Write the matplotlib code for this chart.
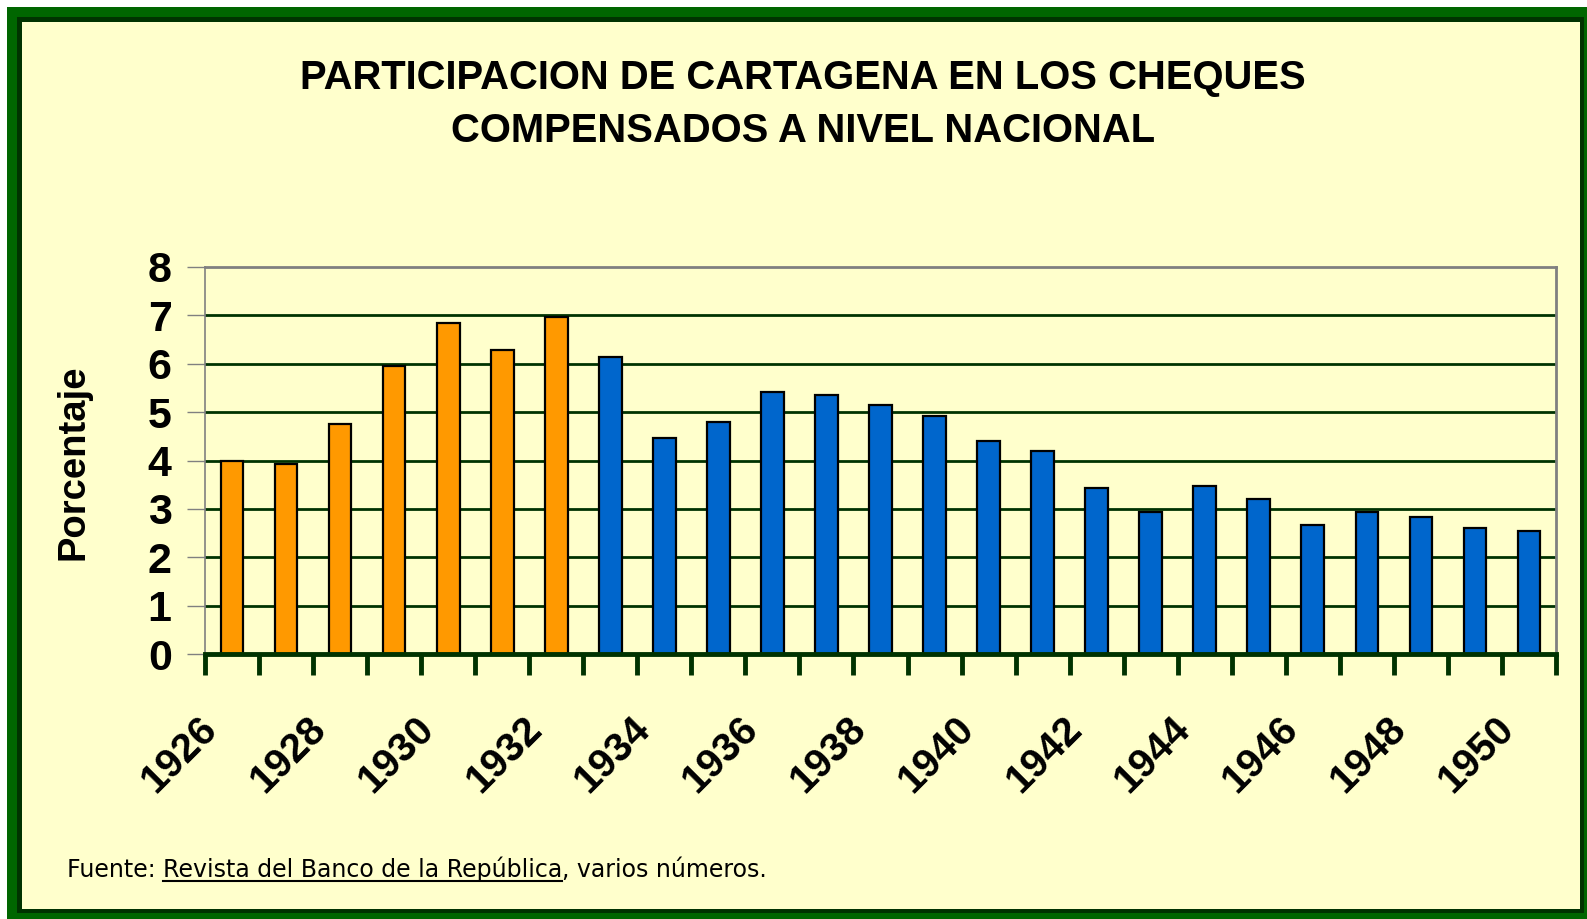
import matplotlib
matplotlib.use("Agg")
import matplotlib.pyplot as plt
from matplotlib.patches import Rectangle
from matplotlib.lines import Line2D
from matplotlib.transforms import ScaledTranslation
import numpy as np

# Daten
years = list(range(1926, 1951))
share = [4.0, 3.92, 4.75, 5.96, 6.85, 6.29, 6.96,
         6.13, 4.47, 4.80, 5.41, 5.36, 5.14, 4.92, 4.41, 4.19,
         3.43, 2.93, 3.48, 3.21, 2.67, 2.93, 2.83, 2.60, 2.55]
first_blue = 1933
label_years = years[::2]

orange = "#FF9900"
blue = "#0066CC"
cream = "#FFFFCC"
dkgreen = "#003300"

W, H = 1587, 919
fig = plt.figure(figsize=(W / 100, H / 100), dpi=100)
fig.patch.set_facecolor("white")

def px_rect(x0, y0, x1, y1, color):
    # Rechteck in Pixelkoordinaten (y von oben)
    r = Rectangle((x0 / W, 1 - y1 / H), (x1 - x0) / W, (y1 - y0) / H,
                  transform=fig.transFigure, facecolor=color,
                  edgecolor="none", zorder=-10)
    fig.patches.append(r)

# Rahmen
px_rect(7, 7, W + 10, H + 10, "#006600")
px_rect(17, 17, 1584, 913, dkgreen)
px_rect(22, 22, 1580, 909, cream)

ax = fig.add_axes([205 / W, 1 - 654 / H, (1556 - 205) / W, (654 - 267) / H])
ax.set_facecolor(cream)

colors = [orange if y < first_blue else blue for y in years]
ax.bar(years, share, width=0.42, color=colors, edgecolor="black",
       linewidth=1.6, zorder=3)

ax.set_xlim(1925.5, 1950.5)
ax.set_ylim(0, 8)

# Gitternetz
for v in range(1, 8):
    ax.axhline(v, color=dkgreen, lw=2, zorder=1)

for side in ["left", "top", "right"]:
    ax.spines[side].set_color("#808080")
ax.spines["left"].set_linewidth(1.2)
ax.spines["top"].set_linewidth(2)
ax.spines["right"].set_linewidth(2)
ax.spines["bottom"].set_color(dkgreen)
ax.spines["bottom"].set_linewidth(3.5)
ax.spines["bottom"].set_zorder(5)

# y-Achse
ax.set_yticks(range(0, 9))
ax.tick_params(axis="y", length=13, width=1, color="#808080", pad=11,
               labelsize=31)
for lab in ax.get_yticklabels():
    lab.set_fontweight("bold")
    lab.set_family("Liberation Sans")

# x-Achse: Striche an den Grenzen, Beschriftung in der Mitte
ax.set_xticks(np.arange(1925.5, 1951, 1))
ax.set_xticklabels([])
ax.tick_params(axis="x", which="major", length=15, width=3.5, color=dkgreen)
ax.set_xticks(label_years, minor=True)
ax.set_xticklabels([str(y) for y in label_years], minor=True, rotation=45,
                   ha="right", va="top", rotation_mode="anchor",
                   fontsize=29, fontweight="bold", family="Liberation Sans")
ax.tick_params(axis="x", which="minor", length=0, pad=0)
offset = ScaledTranslation(-34 / 100, -56 / 100, fig.dpi_scale_trans)
for lab in ax.get_xticklabels(minor=True):
    lab.set_transform(lab.get_transform() + offset)

# Achsentitel
fig.text(73 / W, 1 - 462 / H, "Porcentaje", rotation=90, ha="center",
         va="center", fontsize=27.5, fontweight="bold", family="Liberation Sans")

# Titel
fig.text(803 / W, 1 - 78 / H, "PARTICIPACION DE CARTAGENA EN LOS CHEQUES",
         ha="center", va="center", fontsize=28.8, fontweight="bold",
         family="Liberation Sans")
fig.text(803 / W, 1 - 131 / H, "COMPENSADOS A NIVEL NACIONAL",
         ha="center", va="center", fontsize=28.8, fontweight="bold",
         family="Liberation Sans")

# Quelle mit Unterstreichung
fam = ["Liberation Sans Narrow", "DejaVu Sans", "Liberation Sans"]
renderer = fig.canvas.get_renderer()
x = 67 / W
yb = 1 - 877 / H
parts = ["Fuente: ", "Revista del Banco de la República", ", varios números."]
for i, p in enumerate(parts):
    t = fig.text(x, yb, p, ha="left", va="baseline", fontsize=17,
                 family=fam)
    bb = t.get_window_extent(renderer).transformed(fig.transFigure.inverted())
    if i == 1:
        fig.lines.append(Line2D([bb.x0, bb.x1], [yb - 4 / H, yb - 4 / H],
                                transform=fig.transFigure, color="black",
                                lw=1.5))
    x = bb.x1

fig.savefig("out.png", dpi=100)
